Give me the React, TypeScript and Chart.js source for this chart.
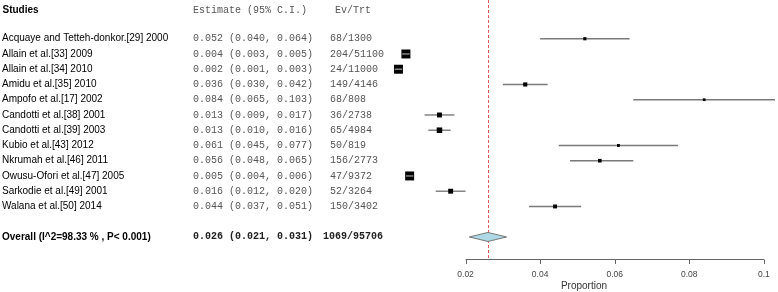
import { useEffect, useRef } from "react";
import { Chart, registerables } from "chart.js";

Chart.register(...registerables);

const studies = [
  "Acquaye and Tetteh-donkor.[29] 2000",
  "Allain et al.[33] 2009",
  "Allain et al.[34] 2010",
  "Amidu et al.[35] 2010",
  "Ampofo et al.[17] 2002",
  "Candotti et al.[38] 2001",
  "Candotti et al.[39] 2003",
  "Kubio et al.[43] 2012",
  "Nkrumah et al.[46] 2011",
  "Owusu-Ofori et al.[47] 2005",
  "Sarkodie et al.[49] 2001",
  "Walana et al.[50] 2014",
];
const estimates = [0.052, 0.004, 0.002, 0.036, 0.084, 0.013, 0.013, 0.061, 0.056, 0.005, 0.016, 0.044];
const ciLower = [0.04, 0.003, 0.001, 0.03, 0.065, 0.009, 0.01, 0.045, 0.048, 0.004, 0.012, 0.037];
const ciUpper = [0.064, 0.005, 0.003, 0.042, 0.103, 0.017, 0.016, 0.077, 0.065, 0.006, 0.02, 0.051];
const events = [68, 204, 24, 149, 68, 36, 65, 50, 156, 47, 52, 150];
const totals = [1300, 51100, 11000, 4146, 808, 2738, 4984, 819, 2773, 9372, 3264, 3402];

const overallLabel = "Overall (I^2=98.33 % , P< 0.001)";
const overallEstimate = 0.026;
const overallLower = 0.021;
const overallUpper = 0.031;
const overallEvents = 1069;
const overallTotal = 95706;

const xTicks = [0.02, 0.04, 0.06, 0.08, 0.1];
const xTickLabels = ["0.02", "0.04", "0.06", "0.08", "0.1"];
const xTitle = "Proportion";
const headers = ["Studies", "Estimate (95% C.I.)", "Ev/Trt"];

const OVERALL_ROW = 13;
const HEADER_ROW = -1.88;
const AXIS_ROW = 14.46;

const SANS = '"Liberation Sans", Arial, sans-serif';
const MONO = '"Liberation Mono", "Courier New", monospace';

const fmt = (v: number) => v.toFixed(3);

// box side (px) from inverse CI width (precision)
const boxSide = (i: number) => 0.84 + 0.364 * Math.sqrt(1 / (ciUpper[i] - ciLower[i]));

export default function App() {
  const ref = useRef<HTMLCanvasElement | null>(null);

  useEffect(() => {
    if (!ref.current) return;

    const ciDatasets = studies.map((s, i) => ({
      type: "line" as const,
      label: s,
      data: [
        { x: ciLower[i], y: i },
        { x: ciUpper[i], y: i },
      ],
      borderColor: "#7a7a7a",
      borderWidth: 1.4,
      pointRadius: 0,
      showLine: true,
      fill: false,
      order: 2,
    }));

    const pointDataset = {
      type: "scatter" as const,
      label: "Estimate",
      data: estimates.map((e, i) => ({ x: e, y: i })),
      pointStyle: "rect",
      pointRadius: estimates.map((_, i) => boxSide(i) / Math.SQRT2),
      backgroundColor: "#000",
      borderWidth: 0,
      order: 1,
    };

    const forestPlugin = {
      id: "forest",
      beforeDatasetsDraw(chart: any) {
        const { ctx } = chart;
        const x = chart.scales.x;
        const y = chart.scales.y;
        const axisY = y.getPixelForValue(AXIS_ROW);
        ctx.save();
        ctx.strokeStyle = "#e05a5a";
        ctx.lineWidth = 1;
        ctx.setLineDash([3, 2]);
        const rx = Math.round(x.getPixelForValue(overallEstimate)) + 0.5;
        ctx.beginPath();
        ctx.moveTo(rx, 0);
        ctx.lineTo(rx, axisY);
        ctx.stroke();
        ctx.restore();
      },
      afterDatasetsDraw(chart: any) {
        const { ctx } = chart;
        const x = chart.scales.x;
        const y = chart.scales.y;
        ctx.save();
        studies.forEach((_, i) => {
          const x0 = x.getPixelForValue(ciLower[i]);
          const x1 = x.getPixelForValue(ciUpper[i]);
          if (x1 - x0 < boxSide(i)) {
            const yy = y.getPixelForValue(i);
            ctx.strokeStyle = "#9a9a9a";
            ctx.lineWidth = 1.3;
            ctx.beginPath();
            ctx.moveTo(x0, yy);
            ctx.lineTo(x1, yy);
            ctx.stroke();
          }
        });
        const oy = y.getPixelForValue(OVERALL_ROW);
        const ox0 = x.getPixelForValue(overallLower);
        const ox1 = x.getPixelForValue(overallUpper);
        const oxm = x.getPixelForValue(overallEstimate);
        ctx.beginPath();
        ctx.moveTo(ox0, oy);
        ctx.lineTo(oxm, oy - 4.5);
        ctx.lineTo(ox1, oy);
        ctx.lineTo(oxm, oy + 4.5);
        ctx.closePath();
        ctx.fillStyle = "#add8e6";
        ctx.fill();
        ctx.strokeStyle = "#777";
        ctx.lineWidth = 1;
        ctx.stroke();
        ctx.restore();
      },
      afterDraw(chart: any) {
        const { ctx } = chart;
        const x = chart.scales.x;
        const y = chart.scales.y;
        ctx.save();
        ctx.textBaseline = "middle";
        ctx.textAlign = "left";
        const hy = y.getPixelForValue(HEADER_ROW);
        ctx.fillStyle = "#000";
        ctx.font = `bold 10px ${SANS}`;
        ctx.fillText(headers[0], 2.5, hy);
        ctx.fillStyle = "#555";
        ctx.font = `10px ${MONO}`;
        ctx.fillText(headers[1], 193, hy);
        ctx.fillText(headers[2], 335, hy);
        studies.forEach((s, i) => {
          const yy = y.getPixelForValue(i);
          ctx.fillStyle = "#000";
          ctx.font = `10px ${SANS}`;
          ctx.fillText(s, 2, yy);
          ctx.fillStyle = "#555";
          ctx.font = `10px ${MONO}`;
          ctx.fillText(`${fmt(estimates[i])} (${fmt(ciLower[i])}, ${fmt(ciUpper[i])})`, 193, yy);
          ctx.fillText(`${events[i]}/${totals[i]}`, 330, yy);
        });
        const oy = y.getPixelForValue(OVERALL_ROW);
        ctx.fillStyle = "#000";
        ctx.font = `bold 10px ${SANS}`;
        ctx.fillText(overallLabel, 2, oy);
        ctx.fillStyle = "#222";
        ctx.font = `bold 10px ${MONO}`;
        ctx.fillText(`${fmt(overallEstimate)} (${fmt(overallLower)}, ${fmt(overallUpper)})`, 193, oy);
        ctx.fillText(`${overallEvents}/${overallTotal}`, 323, oy);
        const ay = Math.round(y.getPixelForValue(AXIS_ROW)) + 0.5;
        const ax0 = x.getPixelForValue(xTicks[0]);
        const ax1 = x.getPixelForValue(xTicks[xTicks.length - 1]);
        ctx.strokeStyle = "#666";
        ctx.lineWidth = 1;
        ctx.beginPath();
        ctx.moveTo(ax0, ay);
        ctx.lineTo(ax1, ay);
        xTicks.forEach((t) => {
          const tx = Math.round(x.getPixelForValue(t)) + 0.5;
          ctx.moveTo(tx, ay);
          ctx.lineTo(tx, ay + 4.5);
        });
        ctx.stroke();
        ctx.fillStyle = "#444";
        ctx.font = `8.5px ${SANS}`;
        ctx.textAlign = "center";
        xTicks.forEach((t, k) => {
          ctx.fillText(xTickLabels[k], x.getPixelForValue(t), ay + 15.5);
        });
        ctx.fillStyle = "#333";
        ctx.font = `10px ${SANS}`;
        ctx.fillText(xTitle, (chart.chartArea.left + chart.chartArea.right) / 2 - 0.5, ay + 26.5);
        ctx.restore();
      },
    };

    const chart = new Chart(ref.current, {
      type: "scatter",
      data: { datasets: [...ciDatasets, pointDataset] as any },
      options: {
        animation: false,
        responsive: false,
        devicePixelRatio: 1,
        layout: { autoPadding: false, padding: { left: 391, right: 0, top: 0, bottom: 0 } },
        plugins: { legend: { display: false }, tooltip: { enabled: false } },
        scales: {
          x: { type: "linear", min: 0, max: 0.1038, display: false },
          y: { type: "linear", min: -2.54, max: 16.61, reverse: true, display: false },
        },
      },
      plugins: [forestPlugin],
    });
    return () => chart.destroy();
  }, []);

  return (
    <div style={{ position: "absolute", left: 0, top: 0, width: 778, height: 292, background: "#fff" }}>
      <canvas ref={ref} width={778} height={292} style={{ display: "block" }} />
    </div>
  );
}
